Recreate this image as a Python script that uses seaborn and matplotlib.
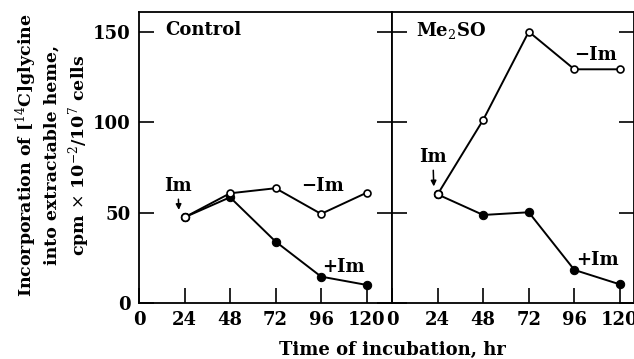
import matplotlib
matplotlib.use("Agg")
import matplotlib.pyplot as plt
import seaborn as sns
import pandas as pd

hours = [24, 48, 72, 96, 120]
control_minus_im = [47.4, 60.7, 63.5, 49.3, 61.0]
control_plus_im = [47.4, 58.5, 34.0, 14.6, 10.0]
me2so_minus_im = [60.1, 101.3, 150.1, 129.3, 129.3]
me2so_plus_im = [60.1, 48.7, 50.2, 18.3, 10.3]
x_ticks = [0, 24, 48, 72, 96, 120]
y_ticks = [0, 50, 100, 150]

sns.set_theme(style="white")
plt.rcParams["font.family"] = ["DejaVu Serif"]
plt.rcParams["mathtext.fontset"] = "dejavuserif"
for k in ["text.color", "axes.labelcolor", "xtick.color", "ytick.color"]:
    plt.rcParams[k] = "black"

W, H = 634, 359
fig = plt.figure(figsize=(W / 100, H / 100), dpi=100)

def px_ax(x0, x1, y_top, y_bot):
    return [x0 / W, (H - y_bot) / H, (x1 - x0) / W, (y_bot - y_top) / H]

axL = fig.add_axes(px_ax(139, 392, 12, 303))
axR = fig.add_axes(px_ax(392, 634, 12, 303))

FS = 13

def panel(ax, minus, plus, xmax, title, left):
    df_m = pd.DataFrame({"hr": hours, "v": minus})
    df_p = pd.DataFrame({"hr": hours, "v": plus})
    sns.lineplot(data=df_p, x="hr", y="v", ax=ax, color="black", lw=1.4,
                 marker="o", markersize=6, markerfacecolor="black",
                 markeredgecolor="black", zorder=3)
    sns.lineplot(data=df_m, x="hr", y="v", ax=ax, color="black", lw=1.4,
                 marker="o", markersize=5, markerfacecolor="white",
                 markeredgecolor="black", markeredgewidth=1.2, zorder=4)
    sns.scatterplot(x=hours[:1], y=minus[:1], ax=ax, s=30, color="white",
                    edgecolor="black", linewidth=1.2, zorder=5)
    ax.set_xlim(0, xmax)
    ax.set_ylim(0, 161)
    ax.set_xticks(x_ticks)
    ax.set_xticklabels([str(t) for t in x_ticks], fontsize=FS, fontweight="bold")
    ax.set_yticks(y_ticks)
    ax.tick_params(axis="x", direction="in", length=11, width=1.2, pad=6,
                   bottom=True, top=False, colors="black")
    ax.tick_params(axis="y", direction="in", length=11, width=1.2,
                   left=True, right=True, colors="black")
    if left:
        ax.set_yticklabels([str(t) for t in y_ticks], fontsize=FS, fontweight="bold")
        ax.tick_params(axis="y", pad=6)
    else:
        ax.set_yticklabels([])
    ax.set_xlabel("")
    ax.set_ylabel("")
    for s in ax.spines.values():
        s.set_color("black")
        s.set_linewidth(1.3)
        s.set_visible(True)
    ax.text(0.105 if left else 0.1, 151, title, fontsize=FS, fontweight="bold",
            va="center", ha="left", transform=ax.get_yaxis_transform())

arrow = dict(arrowstyle="-|>", color="black", lw=1.1, mutation_scale=8,
             shrinkA=1, shrinkB=0)

panel(axL, control_minus_im, control_plus_im, 133.4, "Control", True)
panel(axR, me2so_minus_im, me2so_plus_im, 127.4, "Me$_2$SO", False)

axL.annotate("Im", xy=(21, 51.5), xytext=(20.5, 65), fontsize=FS, fontweight="bold",
             ha="center", va="center", arrowprops=arrow)
axL.text(97, 65, "\u2212Im", fontsize=FS, fontweight="bold", ha="center", va="center")
axL.text(108, 20, "+Im", fontsize=FS, fontweight="bold", ha="center", va="center")

axR.annotate("Im", xy=(22, 64.5), xytext=(21.5, 81), fontsize=FS, fontweight="bold",
             ha="center", va="center", arrowprops=arrow)
axR.text(107, 137, "\u2212Im", fontsize=FS, fontweight="bold", ha="center", va="center")
axR.text(108, 24, "+Im", fontsize=FS, fontweight="bold", ha="center", va="center")

fig.text(392 / W, (H - 350) / H, "Time of incubation, hr", fontsize=FS,
         fontweight="bold", ha="center", va="center")
fig.text(53 / W, (H - 155) / H,
         "Incorporation of [$^{14}$C]glycine\ninto extractable heme,\n"
         "cpm $\\times$ 10$^{-2}$/10$^{7}$ cells",
         fontsize=12.5, fontweight="bold", ha="center", va="center",
         rotation=90, linespacing=1.3)

fig.savefig("out.png", dpi=100)
